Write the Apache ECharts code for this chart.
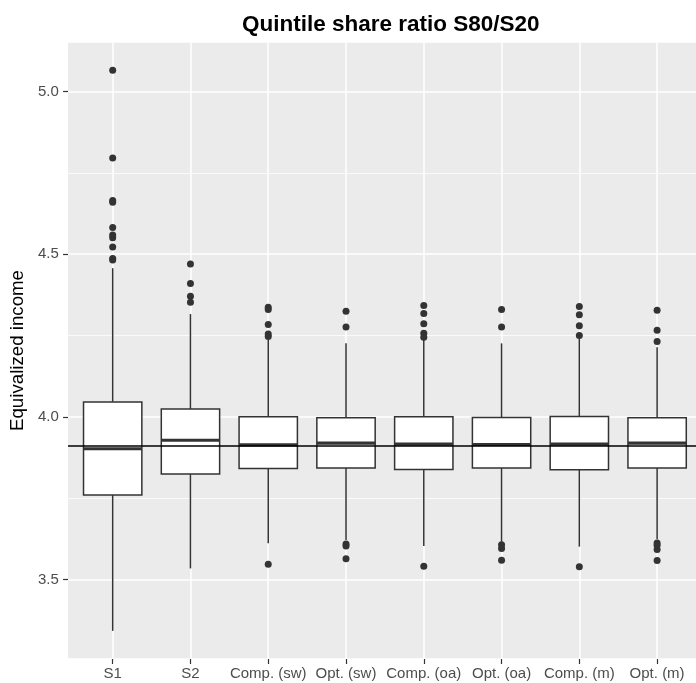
<!DOCTYPE html>
<html>
<head>
<meta charset="utf-8">
<script src="https://cdn.jsdelivr.net/npm/echarts@6/dist/echarts.min.js"></script>
<style>
html,body{margin:0;padding:0;background:#fff;}
#chart{width:696px;height:683px;}
</style>
</head>
<body>
<div id="chart"></div>
<script>
// ---- data ----
const categories = ['S1', 'S2', 'Comp. (sw)', 'Opt. (sw)', 'Comp. (oa)', 'Opt. (oa)', 'Comp. (m)', 'Opt. (m)'];
const whiskerLow  = [3.342, 3.534, 3.611, 3.621, 3.603, 3.616, 3.601, 3.624];
const q1          = [3.760, 3.824, 3.841, 3.843, 3.838, 3.843, 3.837, 3.843];
const median      = [3.902, 3.928, 3.914, 3.919, 3.916, 3.915, 3.916, 3.919];
const q3          = [4.046, 4.024, 4.000, 3.997, 4.000, 3.998, 4.001, 3.997];
const whiskerHigh = [4.457, 4.316, 4.236, 4.226, 4.236, 4.226, 4.240, 4.214];
const outliers = [
  [5.066, 4.796, 4.665, 4.660, 4.582, 4.559, 4.551, 4.522, 4.487, 4.482],
  [4.470, 4.410, 4.371, 4.352],
  [4.337, 4.330, 4.284, 4.255, 4.247, 3.547],
  [4.325, 4.276, 3.609, 3.603, 3.564],
  [4.342, 4.318, 4.286, 4.257, 4.245, 3.541],
  [4.330, 4.276, 3.607, 3.595, 3.559],
  [4.339, 4.314, 4.280, 4.250, 3.539],
  [4.328, 4.266, 4.232, 3.612, 3.605, 3.592, 3.558]
];
const referenceLine = 3.9065;
const yTickLabels = ['3.5', '4.0', '4.5', '5.0'];
const yMin = 3.2555, yMax = 5.1525;

// ---- build series data ----
const boxData = categories.map((c, i) => [i, whiskerLow[i], q1[i], median[i], q3[i], whiskerHigh[i]]);
const outlierData = [];
outliers.forEach((arr, i) => arr.forEach(v => outlierData.push([i, v])));

const FONT = '"Liberation Sans", Arial, Helvetica, sans-serif';
const DARK = '#333333';

const chart = echarts.init(document.getElementById('chart'), null, {renderer: 'canvas'});
chart.setOption({
  animation: false,
  backgroundColor: '#ffffff',
  title: {
    text: 'Quintile share ratio S80/S20',
    left: 237, top: 8,
    textStyle: {fontFamily: FONT, fontWeight: 'bold', fontSize: 22.5, color: '#000'}
  },
  grid: [
    {left: 66, top: 42, width: 639, height: 617, show: true, backgroundColor: '#EBEBEB', borderWidth: 0, containLabel: false},
    {left: 73.8, top: 42, width: 624, height: 617, show: false, containLabel: false}
  ],
  xAxis: [
    {gridIndex: 0, type: 'value', min: 0, max: 1, show: false},
    {
      gridIndex: 1, type: 'category', data: categories, boundaryGap: true,
      axisLine: {show: false},
      axisTick: {show: true, alignWithLabel: true, length: 5, lineStyle: {color: DARK, width: 1.2}},
      axisLabel: {color: '#4D4D4D', fontFamily: FONT, fontSize: 15, margin: 7, interval: 0},
      splitLine: {show: true, alignWithLabel: true, lineStyle: {color: '#ffffff', width: 1.5}}
    }
  ],
  yAxis: [
    {
      gridIndex: 0, type: 'value', min: yMin, max: yMax, splitNumber: 4,
      name: 'Equivalized income', nameLocation: 'middle', nameGap: 38.5,
      nameTextStyle: {fontFamily: FONT, fontSize: 18.7, color: '#000'},
      axisLine: {show: false},
      axisTick: {show: true, length: 5, lineStyle: {color: DARK, width: 1.2}},
      axisLabel: {
        color: '#4D4D4D', fontFamily: FONT, fontSize: 15, margin: 9.3,
        showMinLabel: false, showMaxLabel: false,
        formatter: v => { const s = v.toFixed(1); return yTickLabels.indexOf(s) >= 0 && Math.abs(v - parseFloat(s)) < 1e-6 ? s : ''; }
      },
      splitLine: {show: true, lineStyle: {color: '#ffffff', width: 1.5}},
      minorTick: {show: false, splitNumber: 2},
      minorSplitLine: {show: true, lineStyle: {color: '#ffffff', width: 0.75}}
    },
    {gridIndex: 1, type: 'value', min: yMin, max: yMax, show: false, splitLine: {show: false}}
  ],
  series: [
    {
      type: 'line', xAxisIndex: 0, yAxisIndex: 0, data: [], z: 10, silent: true,
      markLine: {
        silent: true, symbol: 'none', label: {show: false},
        lineStyle: {color: '#000000', width: 1.6, type: 'solid'},
        data: [{yAxis: referenceLine}]
      }
    },
    {
      type: 'custom', xAxisIndex: 1, yAxisIndex: 1, z: 3, silent: true,
      data: boxData,
      renderItem: function (params, api) {
        const x = api.value(0);
        const lo = api.coord([x, api.value(1)]);
        const b1 = api.coord([x, api.value(2)]);
        const md = api.coord([x, api.value(3)]);
        const b3 = api.coord([x, api.value(4)]);
        const hi = api.coord([x, api.value(5)]);
        const bw = api.size([1, 0])[0] * 0.75;
        const cx = lo[0];
        const st = {stroke: DARK, lineWidth: 1.5, fill: null};
        return {
          type: 'group',
          children: [
            {type: 'line', shape: {x1: cx, y1: hi[1], x2: cx, y2: b3[1]}, style: st},
            {type: 'line', shape: {x1: cx, y1: b1[1], x2: cx, y2: lo[1]}, style: st},
            {type: 'rect', shape: {x: cx - bw / 2, y: b3[1], width: bw, height: b1[1] - b3[1]},
             style: {fill: '#ffffff', stroke: DARK, lineWidth: 1.5}},
            {type: 'line', shape: {x1: cx - bw / 2, y1: md[1], x2: cx + bw / 2, y2: md[1]},
             style: {stroke: DARK, lineWidth: 3.2}}
          ]
        };
      }
    },
    {
      type: 'scatter', xAxisIndex: 1, yAxisIndex: 1, z: 4, silent: true,
      data: outlierData, symbol: 'circle', symbolSize: 7,
      itemStyle: {color: DARK, opacity: 1}
    }
  ]
});
</script>
</body>
</html>
